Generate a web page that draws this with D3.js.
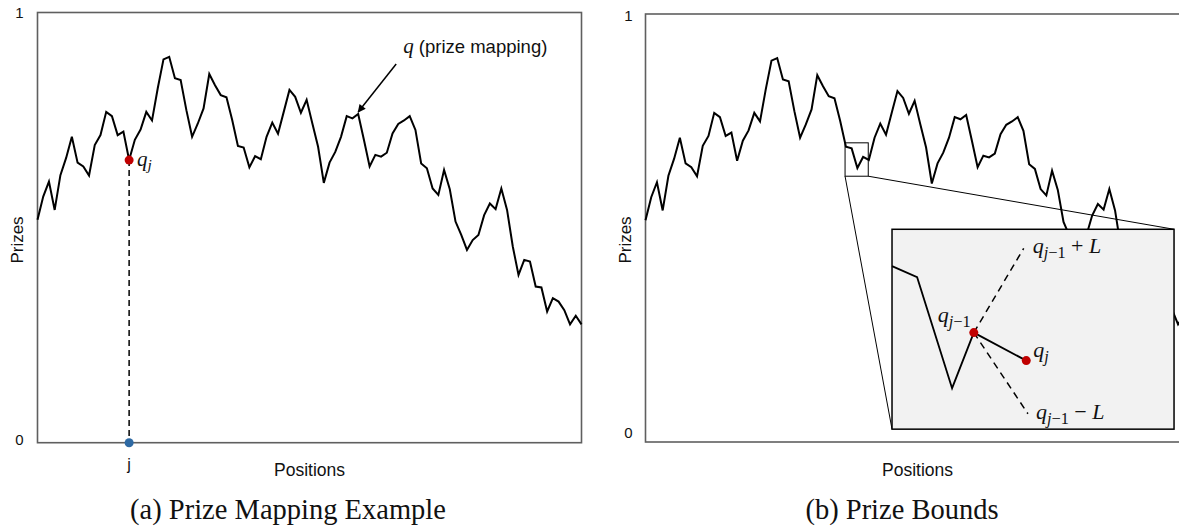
<!DOCTYPE html>
<html>
<head>
<meta charset="utf-8">
<script src="https://cdn.jsdelivr.net/npm/d3@7"></script>
<style>
  html, body { margin: 0; padding: 0; background: #fff; }
  svg { display: block; }
  .sans { font-family: "Liberation Sans", Arial, sans-serif; fill: #111; }
  .serif { font-family: "Liberation Serif", "Times New Roman", serif; fill: #111; }
</style>
</head>
<body>
<svg id="fig" width="1179" height="527"></svg>
<script>
// Prize at each position (same mapping drawn in both panels)
const prizes = [
  0.518, 0.572, 0.607, 0.541, 0.622, 0.662, 0.711, 0.651, 0.642, 0.621,
  0.692, 0.715, 0.769, 0.759, 0.715, 0.723, 0.657, 0.704, 0.728, 0.769,
  0.749, 0.824, 0.891, 0.897, 0.847, 0.843, 0.773, 0.711, 0.742, 0.777,
  0.857, 0.831, 0.808, 0.803, 0.750, 0.690, 0.686, 0.640, 0.666, 0.659,
  0.711, 0.744, 0.718, 0.769, 0.820, 0.804, 0.767, 0.797, 0.742, 0.688,
  0.604, 0.651, 0.676, 0.711, 0.759, 0.754, 0.764, 0.704, 0.642, 0.669,
  0.665, 0.674, 0.719, 0.741, 0.749, 0.759, 0.727, 0.649, 0.638, 0.591,
  0.576, 0.634, 0.589, 0.514, 0.483, 0.448, 0.471, 0.483, 0.529, 0.556,
  0.543, 0.591, 0.541, 0.456, 0.390, 0.425, 0.421, 0.363, 0.361, 0.305,
  0.336, 0.328, 0.308, 0.275, 0.295, 0.275
];
const yTicks = [0, 1];
const markedPosition = 16;          // position j in panel (a)
const pointedPosition = 56;         // where the "q" arrow points

// Panel (b): zoom window in (position, prize) units and the inset it expands into
const zoomPositions = [34.85, 38.9];
const zoomPrizes = [0.621, 0.699];
const insetPositions = [43.05, 92.3];
const insetPrizes = [0.03, 0.497];

// Inset content, in inset-local units (0..100 on both axes)
const insetTrace = [[0, 81.6], [8.9, 76.0], [21.3, 20.5], [29.0, 48.3], [47.6, 34.3]];
const insetUpper = [46.7, 90.5];
const insetLower = [48.2, 7.7];

const svg = d3.select("#fig");

function mathLabel(g, x, y, parts, size) {
  const t = g.append("text").attr("class", "serif").attr("x", x).attr("y", y)
    .style("font-size", size + "px");
  parts.forEach(p => {
    const s = t.append("tspan").text(p.t);
    if (p.i) s.style("font-style", "italic");
    if (p.sub) s.style("font-size", (size * 0.74) + "px");
    if (p.dy) s.attr("dy", p.dy);
  });
  return t;
}

function panel(opt) {
  const g = svg.append("g");
  const x = d3.scaleLinear().domain([0, prizes.length - 1]).range([opt.left, opt.left + 544]);
  const y = d3.scaleLinear().domain([0, 1]).range([opt.bottom, opt.top]);

  // frame
  g.append("rect")
    .attr("x", opt.left).attr("y", opt.top)
    .attr("width", 544).attr("height", opt.bottom - opt.top)
    .attr("fill", "none").attr("stroke", "#5f5f5f").attr("stroke-width", 1.6);

  // tick labels
  g.selectAll(".tick").data(yTicks).join("text")
    .attr("class", "sans")
    .attr("x", opt.left - opt.tickGap)
    .attr("y", d => y(d) + (d === 1 ? opt.dy1 : opt.dy0))
    .attr("text-anchor", "end")
    .attr("dominant-baseline", "middle")
    .style("font-size", "15px")
    .text(d => d);

  // axis titles
  g.append("text").attr("class", "sans")
    .attr("transform", `translate(${opt.left - 19},${opt.prizesY}) rotate(-90)`)
    .attr("text-anchor", "middle").attr("dominant-baseline", "middle")
    .style("font-size", "17px").text("Prizes");
  g.append("text").attr("class", "sans")
    .attr("x", opt.left + 272).attr("y", 476)
    .attr("text-anchor", "middle").style("font-size", "17.5px").text("Positions");

  // caption
  g.append("text").attr("class", "serif")
    .attr("x", opt.captionX).attr("y", 519)
    .attr("text-anchor", "middle").style("font-size", "28.5px").text(opt.caption);

  // prize mapping line
  const line = d3.line().x((d, i) => x(i)).y(d => y(d));
  g.append("path").datum(prizes)
    .attr("d", line)
    .attr("fill", "none").attr("stroke", "#000").attr("stroke-width", 2)
    .attr("stroke-linejoin", "miter");

  return { g, x, y };
}

// ---------- Panel (a): prize mapping example ----------
const a = panel({ left: 37.5, top: 12.5, bottom: 442.7, tickGap: 14, dy1: 1.5, dy0: -1.5,
                  prizesY: 240, captionX: 288, caption: "(a) Prize Mapping Example" });

const jx = a.x(markedPosition), jy = a.y(prizes[markedPosition]);
a.g.append("line")
  .attr("x1", jx).attr("x2", jx).attr("y1", jy).attr("y2", a.y(0))
  .attr("stroke", "#000").attr("stroke-width", 1.5).attr("stroke-dasharray", "6,4");
a.g.append("circle").attr("cx", jx).attr("cy", jy).attr("r", 4.5).attr("fill", "#c00000");
a.g.append("circle").attr("cx", jx).attr("cy", a.y(0)).attr("r", 4.5).attr("fill", "#2e69a3");
a.g.append("text").attr("class", "sans").attr("x", jx).attr("y", 470)
  .attr("text-anchor", "middle").style("font-size", "16px").text("j");
mathLabel(a.g, jx + 8, jy + 6, [{ t: "q", i: true }, { t: "j", i: true, sub: true, dy: 4 }], 21);

// arrow pointing at the line
a.g.append("defs").append("marker")
  .attr("id", "arrowHead").attr("viewBox", "0 0 10 10")
  .attr("refX", 9).attr("refY", 5).attr("markerWidth", 10).attr("markerHeight", 8)
  .attr("markerUnits", "userSpaceOnUse").attr("orient", "auto")
  .append("path").attr("d", "M0,0 L10,5 L0,10 Z").attr("fill", "#000");
const px = a.x(pointedPosition), py = a.y(prizes[pointedPosition]);
a.g.append("line")
  .attr("x1", px + 38).attr("y1", py - 50).attr("x2", px).attr("y2", py - 2)
  .attr("stroke", "#000").attr("stroke-width", 1.5).attr("marker-end", "url(#arrowHead)");
const ann = a.g.append("text").attr("x", px + 45).attr("y", 53).style("font-size", "18.5px");
ann.append("tspan").attr("class", "serif").style("font-style", "italic").style("font-size", "21px").text("q");
ann.append("tspan").attr("class", "sans").text(" (prize mapping)");

// ---------- Panel (b): prize bounds ----------
const b = panel({ left: 645.5, top: 14, bottom: 442, tickGap: 13, dy1: 3, dy0: -8,
                  prizesY: 240, captionX: 902, caption: "(b) Prize Bounds" });

const zx0 = b.x(zoomPositions[0]), zx1 = b.x(zoomPositions[1]);
const zy0 = b.y(zoomPrizes[0]), zy1 = b.y(zoomPrizes[1]);
const ix0 = b.x(insetPositions[0]), ix1 = b.x(insetPositions[1]);
const iy0 = b.y(insetPrizes[0]), iy1 = b.y(insetPrizes[1]);

b.g.append("rect").attr("x", zx0).attr("y", zy1).attr("width", zx1 - zx0).attr("height", zy0 - zy1)
  .attr("fill", "none").attr("stroke", "#000").attr("stroke-width", 1);
b.g.append("line").attr("x1", zx0).attr("y1", zy0).attr("x2", ix0).attr("y2", iy0)
  .attr("stroke", "#000").attr("stroke-width", 1);
b.g.append("line").attr("x1", zx1).attr("y1", zy0).attr("x2", ix1).attr("y2", iy1)
  .attr("stroke", "#000").attr("stroke-width", 1);

// inset box
b.g.append("rect").attr("x", ix0).attr("y", iy1).attr("width", ix1 - ix0).attr("height", iy0 - iy1)
  .attr("fill", "#f2f2f2").attr("stroke", "#000").attr("stroke-width", 1.5);

const sx = d3.scaleLinear().domain([0, 100]).range([ix0, ix1]);
const sy = d3.scaleLinear().domain([0, 100]).range([iy0, iy1]);
const prev = insetTrace[3], cur = insetTrace[4];

// bounds around q_{j-1}
[insetUpper, insetLower].forEach(p => {
  b.g.append("line")
    .attr("x1", sx(prev[0])).attr("y1", sy(prev[1])).attr("x2", sx(p[0])).attr("y2", sy(p[1]))
    .attr("stroke", "#000").attr("stroke-width", 1.5).attr("stroke-dasharray", "7,5");
});
b.g.append("path").datum(insetTrace)
  .attr("d", d3.line().x(d => sx(d[0])).y(d => sy(d[1])))
  .attr("fill", "none").attr("stroke", "#000").attr("stroke-width", 1.8);
[prev, cur].forEach(p => {
  b.g.append("circle").attr("cx", sx(p[0])).attr("cy", sy(p[1])).attr("r", 4.5).attr("fill", "#c00000");
});

const fs = 22;
mathLabel(b.g, sx(insetUpper[0]) + 9, sy(insetUpper[1]) + 5,
  [{ t: "q", i: true }, { t: "j", i: true, sub: true, dy: 5 }, { t: "\u22121", sub: true },
   { t: " + ", dy: -5 }, { t: "L", i: true }], fs);
mathLabel(b.g, sx(prev[0]) - 36, sy(prev[1]) - 11,
  [{ t: "q", i: true }, { t: "j", i: true, sub: true, dy: 5 }, { t: "\u22121", sub: true }], fs);
mathLabel(b.g, sx(cur[0]) + 7, sy(cur[1]) - 4,
  [{ t: "q", i: true }, { t: "j", i: true, sub: true, dy: 5 }], fs);
mathLabel(b.g, sx(insetLower[0]) + 8, sy(insetLower[1]) + 5,
  [{ t: "q", i: true }, { t: "j", i: true, sub: true, dy: 5 }, { t: "\u22121", sub: true },
   { t: " \u2212 ", dy: -5 }, { t: "L", i: true }], fs);
</script>
</body>
</html>
